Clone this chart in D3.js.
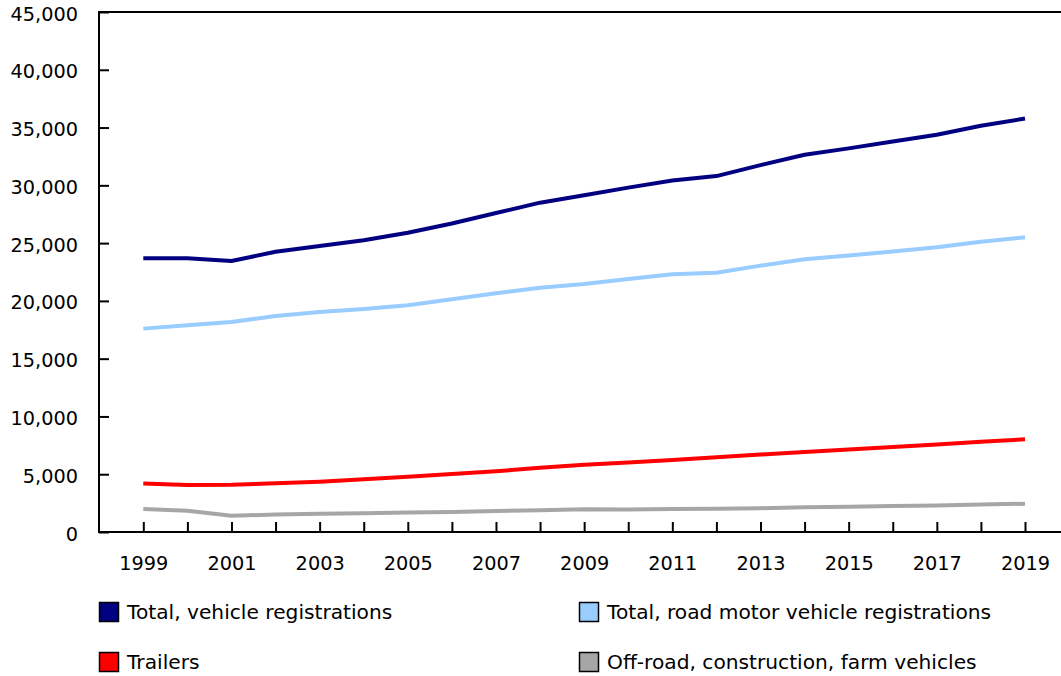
<!DOCTYPE html>
<html>
<head>
<meta charset="utf-8">
<script src="https://cdn.jsdelivr.net/npm/d3@7"></script>
<style>
  html, body { margin: 0; padding: 0; background: #fff; }
  svg { display: block; font-family: "DejaVu Sans", Verdana, sans-serif; }
</style>
</head>
<body>
<svg id="chart" width="1061" height="676"></svg>
<script>
const years = [1999,2000,2001,2002,2003,2004,2005,2006,2007,2008,2009,2010,2011,2012,2013,2014,2015,2016,2017,2018,2019];
const totalVehicle = [23700,23680,23450,24250,24750,25250,25900,26700,27600,28500,29150,29800,30420,30800,31750,32650,33200,33800,34380,35150,35780];
const totalRoadMotor = [17600,17890,18180,18690,19040,19300,19620,20140,20660,21140,21460,21900,22300,22440,23050,23600,23930,24270,24640,25120,25500];
const trailers = [4200,4060,4090,4210,4350,4570,4790,5020,5250,5560,5820,6020,6230,6460,6700,6920,7130,7360,7580,7820,8020];
const offRoad = [2000,1830,1400,1510,1570,1620,1680,1740,1810,1890,1960,1940,1980,2010,2060,2150,2190,2250,2290,2370,2450];
const yTicks = [0,5000,10000,15000,20000,25000,30000,35000,40000,45000];
const seriesNames = ["Total, vehicle registrations","Total, road motor vehicle registrations","Trailers","Off-road, construction, farm vehicles"];
const seriesColors = ["#000080","#99CCFF","#FF0000","#A6A6A6"];

const series = [
  {name: seriesNames[0], color: seriesColors[0], values: totalVehicle},
  {name: seriesNames[1], color: seriesColors[1], values: totalRoadMotor},
  {name: seriesNames[2], color: seriesColors[2], values: trailers},
  {name: seriesNames[3], color: seriesColors[3], values: offRoad}
];

const svg = d3.select("#chart");
const pLeft = 99, pRight = 1061, pTop = 12, pBottom = 532;

const x = d3.scaleLinear().domain([1999, 2019]).range([143.3, 1025]);
const y = d3.scaleLinear().domain([0, 45000]).range([pBottom, pTop]);
const fmt = d3.format(",");
const fontSize = 19.3;

// top border
svg.append("line").attr("x1", pLeft).attr("x2", pRight).attr("y1", pTop).attr("y2", pTop)
  .attr("stroke", "#000").attr("stroke-width", 2);

// y axis
const yAxis = svg.append("g").attr("transform", `translate(${pLeft},0)`)
  .call(d3.axisLeft(y).tickValues(yTicks).tickFormat(fmt).tickSizeInner(-10).tickSizeOuter(0).tickPadding(21));
yAxis.select(".domain").remove();
yAxis.selectAll(".tick line").attr("stroke", "#000").attr("stroke-width", 2);
yAxis.selectAll(".tick text").attr("font-size", fontSize).attr("font-family", "DejaVu Sans").attr("fill", "#000").attr("dy", "0.42em");

// x axis
const xAxis = svg.append("g").attr("transform", `translate(0,${pBottom})`)
  .call(d3.axisBottom(x).tickValues(years).tickFormat(d => ((d - 1999) % 2 === 0) ? String(d) : "")
    .tickSizeInner(-10).tickSizeOuter(0).tickPadding(24));
xAxis.select(".domain").remove();
xAxis.selectAll(".tick line").attr("stroke", "#000").attr("stroke-width", 2);
xAxis.selectAll(".tick text").attr("font-size", fontSize).attr("font-family", "DejaVu Sans").attr("fill", "#000");

// axis lines
svg.append("line").attr("x1", pLeft).attr("x2", pLeft).attr("y1", pTop - 1).attr("y2", pBottom + 1)
  .attr("stroke", "#000").attr("stroke-width", 2);
svg.append("line").attr("x1", pLeft - 1).attr("x2", pRight).attr("y1", pBottom).attr("y2", pBottom)
  .attr("stroke", "#000").attr("stroke-width", 2);

// lines
const line = d3.line().x((d, i) => x(years[i])).y(d => y(d));
svg.append("g").selectAll("path").data(series.slice().reverse()).join("path")
  .attr("d", d => line(d.values))
  .attr("fill", "none")
  .attr("stroke", d => d.color)
  .attr("stroke-width", 4)
  .attr("stroke-linejoin", "round");

// legend
const legendPos = [[99, 602], [579, 602], [99, 652], [579, 652]];
const lg = svg.append("g").selectAll("g").data(series).join("g")
  .attr("transform", (d, i) => `translate(${legendPos[i][0]},${legendPos[i][1]})`);
lg.append("rect").attr("x", 0.5).attr("y", 0.5).attr("width", 19).attr("height", 19)
  .attr("fill", d => d.color).attr("stroke", "#000").attr("stroke-width", 1.5);
lg.append("text").attr("x", 28).attr("y", 10).attr("dy", "0.35em")
  .attr("font-size", 20.2).attr("fill", "#000").text(d => d.name);
</script>
</body>
</html>
